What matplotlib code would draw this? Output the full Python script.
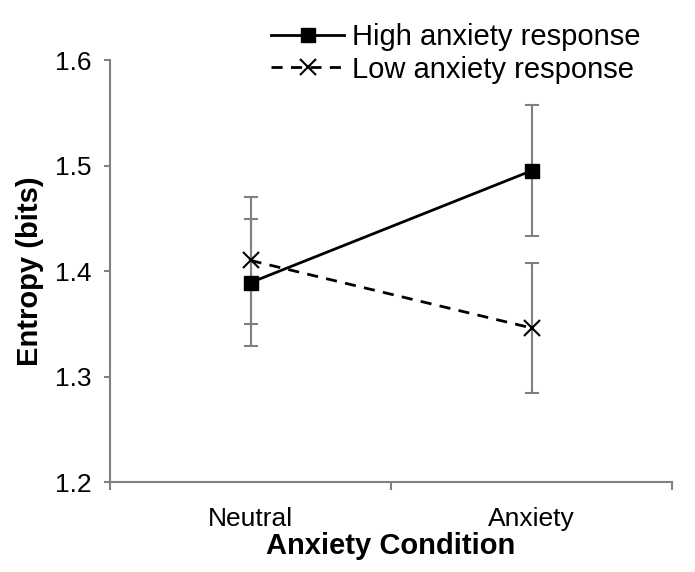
import matplotlib
matplotlib.use("Agg")
import matplotlib.pyplot as plt

plt.rcParams['font.family'] = ['Liberation Sans', 'DejaVu Sans']

categories = ["Neutral", "Anxiety"]
high_vals = [1.389, 1.495]
high_err = [0.060, 0.062]
low_vals = [1.410, 1.346]
low_err = [0.060, 0.062]

fig = plt.figure(figsize=(6.95, 5.72), dpi=100)
ax = fig.add_axes([110/695, 1-482/572, (672-110)/695, (482-60)/572])

x = list(range(len(categories)))
gray = '#808080'

ax.errorbar(x, high_vals, yerr=high_err, fmt='none', ecolor=gray, elinewidth=1.5,
            capsize=4.7, capthick=1.5, zorder=2)
ax.errorbar(x, low_vals, yerr=low_err, fmt='none', ecolor=gray, elinewidth=1.5,
            capsize=4.7, capthick=1.5, zorder=2)

ax.plot(x, high_vals, color='black', linestyle='-', linewidth=2, marker='s',
        markersize=10, label='High anxiety response', zorder=3)
ax.plot(x, low_vals, color='black', linestyle=(0, (4, 3)), linewidth=2, marker='x',
        markersize=11, markeredgewidth=1.5, label='Low anxiety response', zorder=3)

ax.set_xlim(-0.5, 1.5)
ax.set_ylim(1.2, 1.6)
ax.set_yticks([1.2, 1.3, 1.4, 1.5, 1.6])
ax.set_yticklabels(["1.2", "1.3", "1.4", "1.5", "1.6"])
ax.set_xticks(x)
ax.set_xticklabels(categories)
ax.set_xticks([-0.5, 0.5, 1.5], minor=True)

for s in ['top', 'right']:
    ax.spines[s].set_visible(False)
for s in ['left', 'bottom']:
    ax.spines[s].set_color(gray)
    ax.spines[s].set_linewidth(1.5)

ax.tick_params(axis='y', which='major', direction='out', length=4, width=1.5,
               color=gray, labelsize=19, pad=9)
ax.tick_params(axis='x', which='major', length=0, labelsize=19, pad=18)
ax.tick_params(axis='x', which='minor', direction='out', length=6, width=1.5, color=gray)

ax.set_xlabel("Anxiety Condition", fontsize=21, fontweight='bold', labelpad=1)
ax.set_ylabel("Entropy (bits)", fontsize=21, fontweight='bold', labelpad=8)

leg = ax.legend(loc='upper right', bbox_to_anchor=(0.964, 1.115), frameon=False,
                fontsize=21, handlelength=2.5, handletextpad=0.25, labelspacing=0.15,
                borderaxespad=0)

fig.savefig("out.png", dpi=100)
